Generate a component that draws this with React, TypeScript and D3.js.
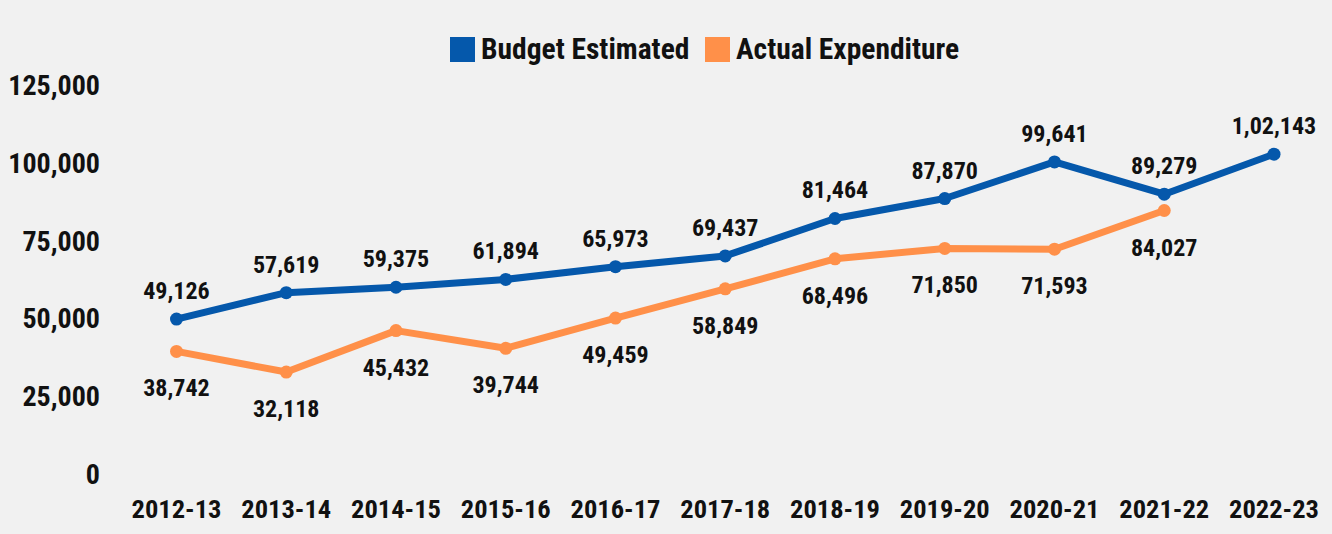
import { useEffect } from "react";
import * as d3 from "d3";

const years = [
  "2012-13", "2013-14", "2014-15", "2015-16", "2016-17", "2017-18",
  "2018-19", "2019-20", "2020-21", "2021-22", "2022-23",
];
const budget = [49126, 57619, 59375, 61894, 65973, 69437, 81464, 87870, 99641, 89279, 102143];
const actual = [38742, 32118, 45432, 39744, 49459, 58849, 68496, 71850, 71593, 84027];
const yTicks = [0, 25000, 50000, 75000, 100000, 125000];

const BLUE = "#0558ab";
const ORANGE = "#ff9049";
const FONT = "'Liberation Sans Narrow', 'Roboto Condensed', Roboto, sans-serif";

// Indian-style grouping, e.g. 1,02,143
function fmtIN(v: number): string {
  const s = String(Math.round(v));
  if (s.length <= 3) return s;
  const last3 = s.slice(-3);
  const rest = s.slice(0, -3).replace(/\B(?=(\d{2})+(?!\d))/g, ",");
  return rest + "," + last3;
}

const W = 1332;
const H = 534;

export default function App() {
  useEffect(() => {
    document.body.style.margin = "0";
    document.body.style.background = "#f1f1f1";
  }, []);

  const x = d3.scalePoint<string>().domain(years).range([176.5, 1274]);
  const y = d3.scaleLinear().domain([0, 125000]).range([472, 83]);

  const line = d3
    .line<number>()
    .x((_, i) => x(years[i]) ?? 0)
    .y((d) => y(d));

  return (
    <svg width={W} height={H} style={{ display: "block", background: "#f1f1f1" }} fontFamily={FONT} fontWeight={700}>
      {/* legend */}
      <g>
        <rect x={450} y={37} width={25} height={25} fill={BLUE} />
        <text x={481} y={59} fontSize={29.5} fill="#111">Budget Estimated</text>
        <rect x={705} y={37} width={25} height={25} fill={ORANGE} />
        <text x={736} y={59} fontSize={29.5} fill="#111">Actual Expenditure</text>
      </g>

      {/* y axis labels */}
      {yTicks.map((t) => (
        <text key={t} x={100} y={y(t) + 12} textAnchor="end" fontSize={28} fill="#111">
          {t.toLocaleString("en-US")}
        </text>
      ))}

      {/* x axis labels */}
      {years.map((yr) => (
        <text key={yr} x={x(yr)} y={518} textAnchor="middle" fontSize={26.5} fill="#111">
          {yr}
        </text>
      ))}

      {/* lines */}
      <path d={line(actual) ?? ""} fill="none" stroke={ORANGE} strokeWidth={7} strokeLinejoin="round" />
      <path d={line(budget) ?? ""} fill="none" stroke={BLUE} strokeWidth={7} strokeLinejoin="round" />

      {actual.map((v, i) => (
        <circle key={"a" + i} cx={x(years[i])} cy={y(v)} r={6.5} fill={ORANGE} />
      ))}
      {budget.map((v, i) => (
        <circle key={"b" + i} cx={x(years[i])} cy={y(v)} r={6.5} fill={BLUE} />
      ))}

      {/* data labels */}
      {budget.map((v, i) => (
        <text key={"bl" + i} x={x(years[i])} y={y(v) - 20} textAnchor="middle" fontSize={24} fill="#111">
          {fmtIN(v)}
        </text>
      ))}
      {actual.map((v, i) => (
        <text key={"al" + i} x={x(years[i])} y={y(v) + 45} textAnchor="middle" fontSize={24} fill="#111">
          {fmtIN(v)}
        </text>
      ))}
    </svg>
  );
}
